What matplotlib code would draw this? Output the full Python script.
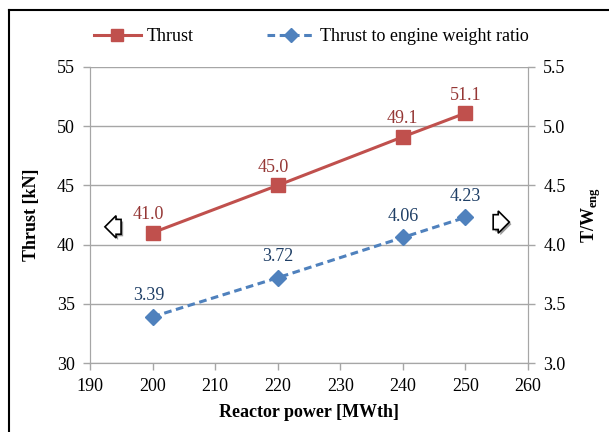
import matplotlib.pyplot as plt
import matplotlib.patheffects as pe
from matplotlib.lines import Line2D

# thrust and thrust-to-weight vs reactor power
power = [200, 220, 240, 250]
thrust = [41.0, 45.0, 49.1, 51.1]
tw_ratio = [3.39, 3.72, 4.06, 4.23]
thrust_labels = ['41.0', '45.0', '49.1', '51.1']
tw_labels = ['3.39', '3.72', '4.06', '4.23']

plt.rcParams['font.family'] = ['Liberation Serif', 'DejaVu Serif']
plt.rcParams['font.size'] = 13
plt.rcParams['mathtext.fontset'] = 'custom'
plt.rcParams['mathtext.rm'] = 'Liberation Serif'
plt.rcParams['mathtext.bf'] = 'Liberation Serif:bold'

red = '#C0504D'
blue = '#4F81BD'
grid_c = '#A6A6A6'

fig = plt.figure(figsize=(6.09, 4.32), dpi=100)
ax = fig.add_axes([0.1478, 0.1597, 0.7192, 0.6853])
ax2 = ax.twinx()

ax.plot(power, thrust, color=red, lw=2.2, marker='s', ms=10, zorder=3)
ax2.plot(power, tw_ratio, color=blue, lw=2.2, ls=(0, (2.5, 1.5)), marker='D', ms=8, zorder=3)

red_dx = [-3, -3.5, 0, 0]
for x, y, s, dx in zip(power, thrust, thrust_labels, red_dx):
    ax.annotate(s, (x, y), xytext=(dx, 13), textcoords='offset points',
                ha='center', va='center', color='#953735', fontsize=13)
blue_dx = [-3, 0, 0, 0]
for x, y, s, dx in zip(power, tw_ratio, tw_labels, blue_dx):
    ax2.annotate(s, (x, y), xytext=(dx, 15), textcoords='offset points',
                 ha='center', va='center', color='#1F3F66', fontsize=13)

ax.set_xlim(190, 260)
ax.set_ylim(30, 55)
ax2.set_ylim(3.0, 5.5)
ax.set_xticks(range(190, 261, 10))
ax.set_yticks(range(30, 56, 5))
ax2.set_yticks([3.0, 3.5, 4.0, 4.5, 5.0, 5.5])
ax2.set_yticklabels(['3.0', '3.5', '4.0', '4.5', '5.0', '5.5'])

ax.grid(axis='y', color=grid_c, lw=1)
ax.set_axisbelow(True)
for a in (ax, ax2):
    for side in ('left', 'right', 'bottom'):
        a.spines[side].set_color(grid_c)
    a.spines['top'].set_visible(False)
    a.tick_params(color=grid_c, length=5, width=1, labelsize=13, pad=6)

ax.set_xlabel('Reactor power [MWth]', fontweight='bold', fontsize=13, labelpad=6)
ax.set_ylabel('Thrust [kN]', fontweight='bold', fontsize=13, labelpad=12)
ax2.set_ylabel(r'T/W$_{\mathbf{eng}}$', fontweight='bold', fontsize=13, labelpad=10)

# hollow arrows pointing at the matching axis
shadow = [pe.SimplePatchShadow(offset=(1.5, -1.5), shadow_rgbFace='#555555', alpha=0.6),
          pe.Normal()]
for x, y, style in [(194.1, 41.5, 'larrow'), (255.3, 41.9, 'rarrow')]:
    t = ax.text(x, y, '  ', fontsize=7, ha='center', va='center', zorder=5,
                bbox=dict(boxstyle=style + ',pad=0.3', fc='white', ec='black', lw=1.2))
    t.get_bbox_patch().set_path_effects(shadow)

handles = [Line2D([], [], color=red, lw=2.2, marker='s', ms=9),
           Line2D([], [], color=blue, lw=2.2, ls=(0, (2.5, 1.5)), marker='D', ms=7)]
fig.legend(handles, ['Thrust', 'Thrust to engine weight ratio'], loc='center',
           bbox_to_anchor=(0.511, 0.915), ncol=2, frameon=False, fontsize=13,
           handlelength=2.6, columnspacing=4.1, handletextpad=0.3)

# outer frame (left and top edges)
fig.add_artist(Line2D([0.015, 0.015], [0, 0.977], color='black', lw=1.5))
fig.add_artist(Line2D([0.015, 1.0], [0.977, 0.977], color='black', lw=1.5))

fig.savefig('out.png', dpi=100)
